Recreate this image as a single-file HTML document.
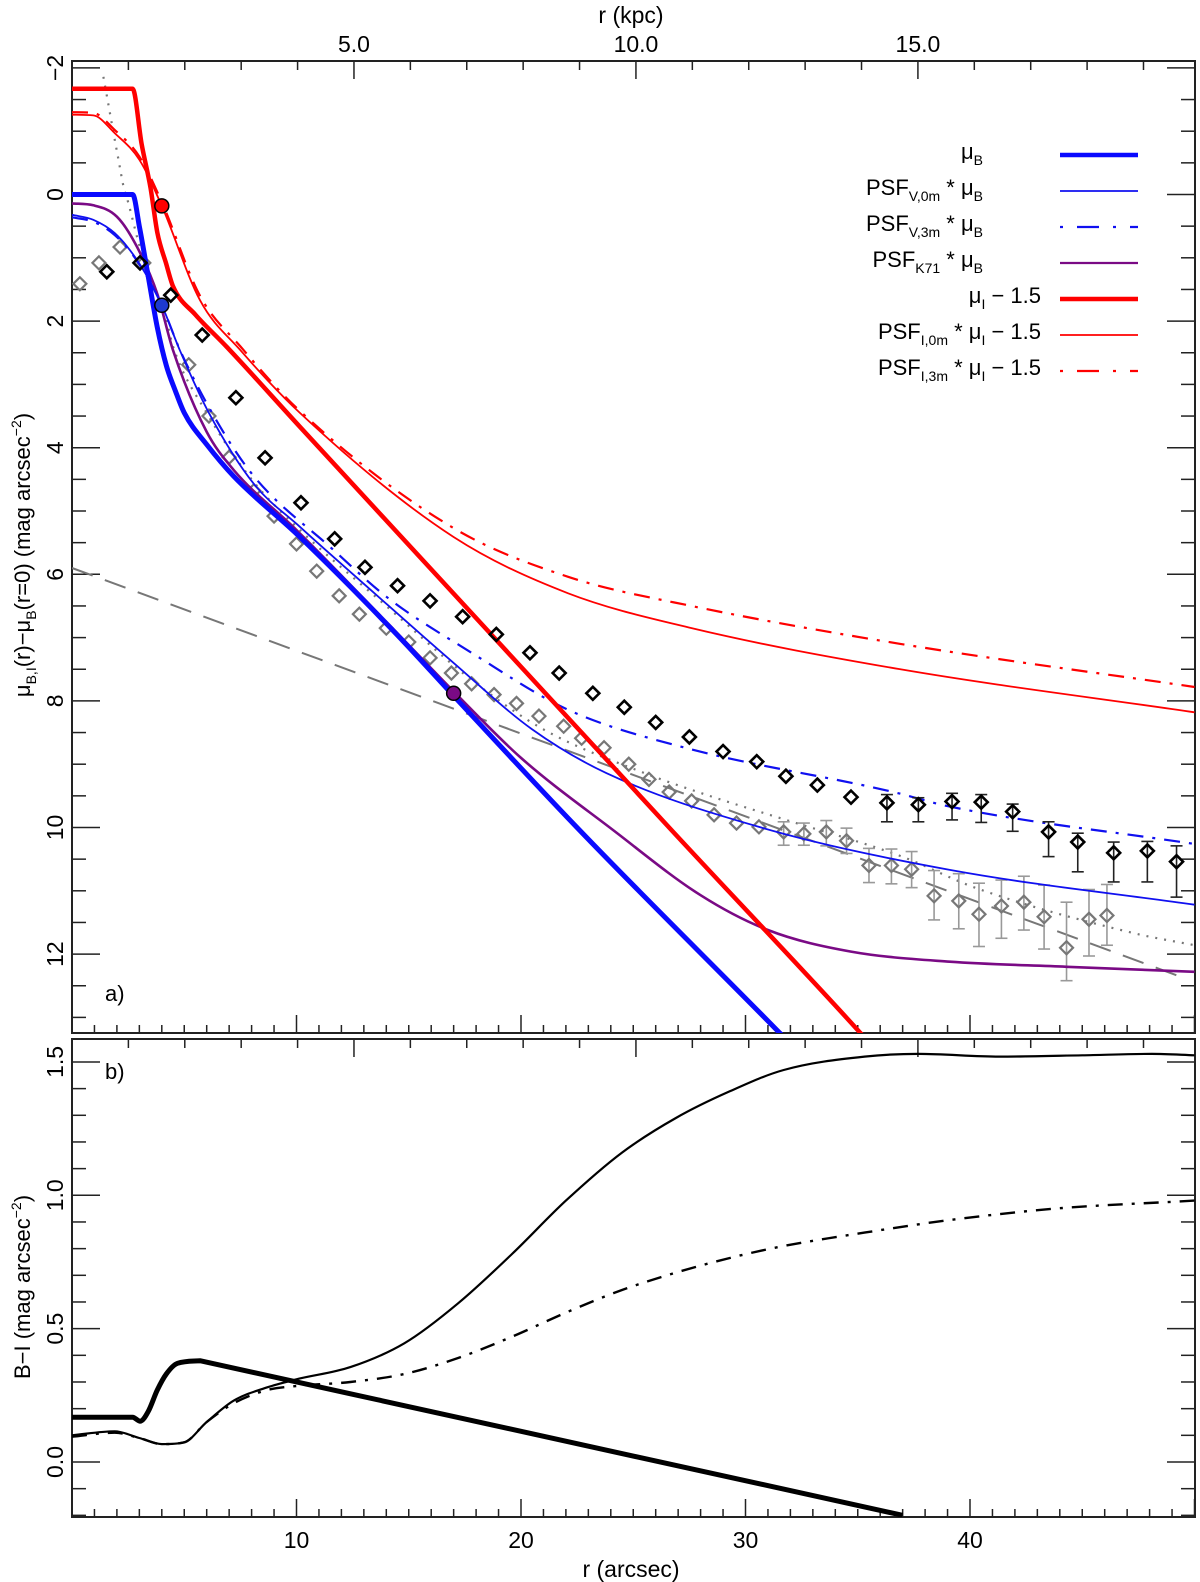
<!DOCTYPE html>
<html><head><meta charset="utf-8"><title>Surface brightness profiles</title>
<style>
html,body{margin:0;padding:0;background:#fff;}
svg{display:block;font-family:"Liberation Sans",Arial,sans-serif;}
</style></head>
<body>
<svg id="chart" width="1200" height="1582" viewBox="0 0 1200 1582" xmlns="http://www.w3.org/2000/svg">
<defs>
<clipPath id="clipA"><rect x="72" y="61" width="1123" height="972"/></clipPath>
<clipPath id="clipB"><rect x="72" y="1039" width="1123" height="478"/></clipPath>
</defs>
<g id="layer"></g>
</svg>
<script>
// ---------- Panel a data (x in arcsec, y in mag) ----------
const muB_x = [0,2.7,3.0,3.4,3.8,4.2,4.6,5.0,6.0,7.2,10.15,14.6,17.0,22.6,31.4,32.5];
const muB_y = [0,0,0.5,1.3,2.1,2.7,3.1,3.45,3.95,4.45,5.41,7.0,7.92,10.04,13.2,13.6];
const muI_x = [0,2.7,3.1,3.5,3.8,4.2,4.5,5.5,6.9,10.15,26.7,35.0,36.0];
const muI_y = [-1.67,-1.67,-0.8,-0.1,0.6,1.1,1.45,1.9,2.41,3.67,10.04,13.2,13.6];
const psfV0_x = [0,0.95,1.9,3.0,4.0,4.8,6.1,8.1,10.15,13.0,17.0,20.5,23.8,30.6,39.1,50];
const psfV0_y = [0.32,0.4,0.61,1.09,1.75,2.46,3.45,4.57,5.25,6.15,7.4,8.45,9.14,9.99,10.67,11.22];
const psfV3_x = [0,0.95,1.9,3.0,4.0,4.8,6.4,8.1,11.6,14.1,17.8,22.1,27.2,36.6,39.1,50];
const psfV3_y = [0.36,0.43,0.64,1.1,1.75,2.45,3.55,4.45,5.6,6.38,7.24,8.14,8.73,9.44,9.67,10.26];
const psfK_x = [0,0.95,2.0,2.9,3.8,4.5,6.0,7.2,10.0,14.0,17.0,20.0,24.1,28.0,31.0,34.7,39.1,44.3,50];
const psfK_y = [0.14,0.17,0.35,0.83,1.57,2.46,3.75,4.35,5.3,6.75,7.85,8.9,10.04,11.07,11.62,11.96,12.12,12.2,12.28];
const psfI0_x = [0,0.95,1.9,3.0,4.0,5.7,7.5,10.15,17.0,22.1,27.6,36.9,50];
const psfI0_y = [-1.26,-1.25,-0.97,-0.55,0.18,1.67,2.46,3.45,5.41,6.3,6.85,7.5,8.18];
const psfI3_x = [0,0.95,1.9,3.0,4.0,5.7,7.5,10.15,17.0,22.1,27.6,36.9,50];
const psfI3_y = [-1.3,-1.29,-1.02,-0.6,0.12,1.6,2.4,3.42,5.27,6.04,6.5,7.1,7.78];
const dotted_x = [1.4,1.85,2.07,2.3,2.5,3.0,3.5,4.2,4.5,6.0,8.0,10.15,14.0,17.8,21.0,25.5,28.4,31.8,36.9,40.3,47.3,50];
const dotted_y = [-1.86,-0.97,-0.55,-0.12,0.12,0.8,1.3,1.98,2.4,3.45,4.5,5.3,6.5,7.67,8.45,9.14,9.5,9.88,10.45,10.96,11.67,11.86];
const dashLine_x = [0,49.4];
const dashLine_y = [5.9,12.36];
const blackPts_x = [1.55,3.03,4.4,5.8,7.3,8.6,10.2,11.7,13.05,14.5,15.95,17.4,18.9,20.4,21.7,23.2,24.6,26.0,27.5,29.0,30.5,31.8,33.2,34.7,36.3,37.7,39.2,40.5,41.9,43.5,44.8,46.4,47.9,49.2];
const blackPts_y = [1.22,1.08,1.59,2.22,3.21,4.16,4.87,5.44,5.89,6.18,6.42,6.67,6.95,7.24,7.56,7.88,8.1,8.34,8.57,8.8,8.96,9.19,9.33,9.52,9.61,9.64,9.59,9.6,9.75,10.07,10.23,10.4,10.37,10.54];
const blackErr_x = [36.3,37.7,39.2,40.5,41.9,43.5,44.8,46.4,47.9,49.2];
const blackErr_top = [9.48,9.53,9.46,9.48,9.63,9.91,10.09,10.23,10.22,10.29];
const blackErr_bot = [9.91,9.91,9.88,9.92,10.06,10.46,10.70,10.86,10.86,11.10];
const grayPts_x = [0.35,1.2,2.14,3.2,5.2,6.1,7.0,8.1,9.0,10.0,10.9,11.9,12.8,14.0,15.0,15.95,16.9,17.8,18.8,19.8,20.8,21.9,22.7,23.7,24.8,25.7,26.6,27.6,28.6,29.6,30.6,31.7,32.6,33.6,34.5,35.5,36.5,37.4,38.4,39.5,40.4,41.4,42.4,43.3,44.3,45.3,46.1];
const grayPts_y = [1.41,1.08,0.83,1.08,2.69,3.5,4.15,4.68,5.08,5.52,5.95,6.34,6.63,6.85,7.07,7.32,7.56,7.73,7.9,8.04,8.24,8.4,8.59,8.74,9.0,9.24,9.44,9.58,9.8,9.93,9.99,10.07,10.1,10.07,10.21,10.6,10.6,10.66,11.08,11.16,11.37,11.24,11.18,11.41,11.9,11.45,11.39];
const grayErr_x = [31.7,32.6,33.6,34.5,35.5,36.5,37.4,38.4,39.5,40.4,41.4,42.4,43.3,44.3,45.3,46.1];
const grayErr_top = [9.91,9.93,9.89,10.01,10.33,10.34,10.38,10.68,10.73,10.88,10.83,10.77,10.91,11.18,10.98,10.90];
const grayErr_bot = [10.28,10.28,10.29,10.41,10.87,10.89,10.95,11.46,11.60,11.88,11.75,11.62,11.92,12.42,12.03,11.86];
const markDots_x = [4.0,4.0,17.0];
const markDots_y = [1.75,0.18,7.88];
// ---------- Panel b data ----------
const bThick_x = [0,2.7,3.03,3.4,3.8,4.2,4.7,5.7,37.0];
const bThick_y = [0.168,0.168,0.153,0.19,0.27,0.33,0.37,0.38,-0.2];
const bThin_x = [0,1.9,3.0,4.0,5.0,6.0,7.2,8.7,10.0,12.4,14.8,17.2,19.6,22.0,24.5,26.9,29.3,31.7,35.3,37.7,41.3,45.0,48.1,50];
const bThin_y = [0.10,0.115,0.09,0.067,0.074,0.15,0.23,0.28,0.31,0.356,0.445,0.595,0.78,0.98,1.16,1.29,1.39,1.47,1.52,1.53,1.52,1.525,1.53,1.525];
const bDash_x = [0,1.9,3.0,4.0,5.0,6.0,7.2,8.7,10.0,12.4,14.8,17.2,19.6,22.0,24.5,26.9,29.3,31.7,35.3,38.9,43.8,50];
const bDash_y = [0.095,0.11,0.09,0.067,0.074,0.15,0.22,0.27,0.285,0.30,0.33,0.39,0.47,0.56,0.645,0.71,0.765,0.81,0.86,0.905,0.95,0.98];
// ---------- Axis ticks ----------
const aTickLabels = [-2,0,2,4,6,8,10,12];
const bTickLabels = [0.0,0.5,1.0,1.5];
const xTickLabels = [10,20,30,40];
const kpcTickLabels = [5,10,15];

const NS = "http://www.w3.org/2000/svg";
const layer = document.getElementById("layer");
const X0 = 72, X1 = 1195, AY0 = 61, AY1 = 1033, BY0 = 1039, BY1 = 1517;
function xs(a){ return X0 + a * 22.45; }
function ya(v){ return 194.5 + v * 63.3; }
function yb(v){ return 1462 - v * 266.7; }
function xk(k){ return xs(k * 2.512); }

function mk(tag, attrs, parent){
  const e = document.createElementNS(NS, tag);
  for (const k in attrs) e.setAttribute(k, attrs[k]);
  (parent || layer).appendChild(e);
  return e;
}
function smoothPath(pts){
  const n = pts.length;
  if (n < 3) return linePath(pts);
  const d = [], m = [];
  for (let i = 0; i < n - 1; i++) d.push((pts[i+1][1] - pts[i][1]) / (pts[i+1][0] - pts[i][0]));
  m[0] = d[0]; m[n-1] = d[n-2];
  for (let i = 1; i < n - 1; i++) m[i] = (d[i-1] * d[i] <= 0) ? 0 : (d[i-1] + d[i]) / 2;
  for (let i = 0; i < n - 1; i++){
    if (d[i] === 0){ m[i] = 0; m[i+1] = 0; continue; }
    const a = m[i] / d[i], b = m[i+1] / d[i], s = a*a + b*b;
    if (s > 9){ const t = 3 / Math.sqrt(s); m[i] = t*a*d[i]; m[i+1] = t*b*d[i]; }
  }
  let p = "M" + pts[0][0].toFixed(1) + "," + pts[0][1].toFixed(1);
  for (let i = 0; i < n - 1; i++){
    const h = pts[i+1][0] - pts[i][0];
    p += " C" + (pts[i][0] + h/3).toFixed(1) + "," + (pts[i][1] + m[i]*h/3).toFixed(1) + " " +
         (pts[i+1][0] - h/3).toFixed(1) + "," + (pts[i+1][1] - m[i+1]*h/3).toFixed(1) + " " +
         pts[i+1][0].toFixed(1) + "," + pts[i+1][1].toFixed(1);
  }
  return p;
}
function linePath(pts){ return "M" + pts.map(p => p[0].toFixed(1) + "," + p[1].toFixed(1)).join(" L"); }
function series(xsArr, ysArr, yf, name, stroke, width, dash, clip, smooth, linFrom){
  const pts = xsArr.map((x, i) => [xs(x), yf(ysArr[i])]);
  let d;
  if (!smooth) d = linePath(pts);
  else if (linFrom !== undefined){
    d = smoothPath(pts.slice(0, linFrom + 1));
    pts.slice(linFrom + 1).forEach(p => { d += " L" + p[0].toFixed(1) + "," + p[1].toFixed(1); });
  } else d = smoothPath(pts);
  const p = mk("path", {d: d, fill: "none", stroke: stroke, "stroke-width": width, "stroke-linejoin": "round", "clip-path": "url(#" + clip + ")"});
  if (dash) p.setAttribute("stroke-dasharray", dash);
  
  
  return p;
}
function diamond(cx, cy, r, stroke, sw, name){
  const p = mk("polygon", {points: cx+","+(cy-r)+" "+(cx+r)+","+cy+" "+cx+","+(cy+r)+" "+(cx-r)+","+cy, fill: "none", stroke: stroke, "stroke-width": sw, "clip-path": "url(#clipA)"});
  
  
}
function errbar(x, t, b, color, name){
  const g = mk("g", {stroke: color, "stroke-width": 1.6, "clip-path": "url(#clipA)"});
  
  
  const cx = xs(x);
  mk("line", {x1: cx, x2: cx, y1: ya(t), y2: ya(b)}, g);
  mk("line", {x1: cx-6, x2: cx+6, y1: ya(t), y2: ya(t)}, g);
  mk("line", {x1: cx-6, x2: cx+6, y1: ya(b), y2: ya(b)}, g);
}
function txt(x, y, s, size, anchor, name, rot){
  const t = mk("text", {x: 0, y: 0, "font-size": size, "text-anchor": anchor || "middle", fill: "#000",
    transform: "translate(" + x + "," + y + ")" + (rot ? " rotate(" + rot + ")" : "")});
  t.textContent = s;
  
  
  return t;
}
function tick(x1, y1, x2, y2, name){
  const l = mk("line", {x1: x1, y1: y1, x2: x2, y2: y2, stroke: "#222", "stroke-width": 1.5});
  
  
}

// ---------- Frames ----------
const fa = mk("rect", {x: X0, y: AY0, width: X1-X0, height: AY1-AY0, fill: "none", stroke: "#222", "stroke-width": 2});


const fb = mk("rect", {x: X0, y: BY0, width: X1-X0, height: BY1-BY0, fill: "none", stroke: "#222", "stroke-width": 2});



// ---------- Panel a y ticks ----------
for (let v = -2; v <= 13.01; v += 0.5){
  const y = ya(v), major = Math.abs(v % 2) < 1e-6;
  const L = major ? 28 : 14;
  tick(X0, y, X0 + L, y, 'y-tick-a');
  tick(X1, y, X1 - L, y, 'y-tick-a-right');
}
aTickLabels.forEach(v => { txt(63, ya(v), (v < 0 ? "\u2212" + Math.abs(v) : String(v)), 23, "middle", 'y-tick-label-a', -90); });
// Panel b y ticks
for (let i = -2; i <= 15; i++){
  const v = i / 10, y = yb(v), major = (i % 5 === 0);
  const L = major ? 28 : 14;
  tick(X0, y, X0 + L, y, 'y-tick-b');
  tick(X1, y, X1 - L, y, 'y-tick-b-right');
}
bTickLabels.forEach(v => { txt(63, yb(v), v.toFixed(1), 23, "middle", 'y-tick-label-b', -90); });
// x ticks (arcsec) bottom of both panels
for (let a = 0; a <= 50; a++){
  const x = xs(a), major = (a % 10 === 0);
  const L = major ? 18 : 8;
  tick(x, AY1, x, AY1 - L, 'x-tick-a');
  tick(x, BY1, x, BY1 - L, 'x-tick-b');
}
xTickLabels.forEach(v => { txt(xs(v), 1548, String(v), 23, "middle", 'x-tick-label'); });
// kpc ticks top of both panels
for (let k = 1; k <= 19; k++){
  const x = xk(k), major = (k % 5 === 0);
  const L = major ? 18 : 9;
  tick(x, AY0, x, AY0 + L, 'kpc-tick-a');
  tick(x, BY0, x, BY0 + L, 'kpc-tick-b');
}
kpcTickLabels.forEach(v => { txt(xk(v), 52, v.toFixed(1), 23, "middle", 'kpc-tick-label'); });

// ---------- Axis titles ----------
txt(631, 23, "r (kpc)", 23, "middle", 'top-x-axis-title');
txt(631, 1577, "r (arcsec)", 23, "middle", 'x-axis-title');
const ta = mk("text", {x: 0, y: 0, "font-size": 22, "text-anchor": "middle", transform: "translate(30,555) rotate(-90)"});


ta.innerHTML = '\u03bc<tspan font-size="14" dy="6">B,I</tspan><tspan dy="-6">(r)\u2212\u03bc</tspan><tspan font-size="14" dy="6">B</tspan><tspan dy="-6">(r=0) (mag arcsec</tspan><tspan font-size="14" dy="-9">\u22122</tspan><tspan dy="9">)</tspan>';
const tb = mk("text", {x: 0, y: 0, "font-size": 22, "text-anchor": "middle", transform: "translate(30,1287) rotate(-90)"});


tb.innerHTML = 'B\u2212I (mag arcsec<tspan font-size="14" dy="-9">\u22122</tspan><tspan dy="9">)</tspan>';
txt(105, 1001, "a)", 22, "start", 'panel-a-label');
txt(105, 1079, "b)", 22, "start", 'panel-b-label');

// ---------- Panel a series ----------
series(dashLine_x, dashLine_y, ya, 'gray-dashed-fit', '#777', 2, '22 13', 'clipA', false);
series(dotted_x, dotted_y, ya, 'gray-dotted-model', '#777', 2.2, '2 7', 'clipA', true);
grayErr_x.forEach((x, i) => errbar(x, grayErr_top[i], grayErr_bot[i], '#999', 'gray-error-bar'));
grayPts_x.forEach((x, i) => diamond(xs(x), ya(grayPts_y[i]), 6.5, '#777', 2.2, 'gray-data-point'));
series(psfK_x, psfK_y, ya, 'psf-k71-mu-b-line', '#7a0a85', 2.6, null, 'clipA', true);
series(psfV0_x, psfV0_y, ya, 'psf-v0m-mu-b-line', '#1010f0', 1.8, null, 'clipA', true);
series(psfV3_x, psfV3_y, ya, 'psf-v3m-mu-b-line', '#1010f0', 2.2, '16 9 3 9', 'clipA', true);
series(psfI0_x, psfI0_y, ya, 'psf-i0m-mu-i-line', '#f00', 1.8, null, 'clipA', true);
series(psfI3_x, psfI3_y, ya, 'psf-i3m-mu-i-line', '#f00', 2.2, '16 9 3 9', 'clipA', true);
series(muB_x, muB_y, ya, 'mu-b-line', '#0a0aff', 5, null, 'clipA', true);
series(muI_x, muI_y, ya, 'mu-i-line', '#f00', 4.5, null, 'clipA', true);
blackErr_x.forEach((x, i) => errbar(x, blackErr_top[i], blackErr_bot[i], '#222', 'black-error-bar'));
blackPts_x.forEach((x, i) => diamond(xs(x), ya(blackPts_y[i]), 6.5, '#000', 2.6, 'black-data-point'));
const dotColors = ['#1e3ad0', '#f00', '#7a0a85'];
const dotNames = ['blue-marker-dot', 'red-marker-dot', 'purple-marker-dot'];
markDots_x.forEach((x, i) => {
  const c = mk("circle", {cx: xs(x), cy: ya(markDots_y[i]), r: 7, fill: dotColors[i], stroke: "#000", "stroke-width": 1.5});
  
  
});

// ---------- Panel b series ----------
series(bDash_x, bDash_y, yb, 'color-psf-3m-line', '#000', 2.4, '15 9 3 9', 'clipB', true);
series(bThin_x, bThin_y, yb, 'color-psf-0m-line', '#000', 2.2, null, 'clipB', true);
series(bThick_x, bThick_y, yb, 'color-intrinsic-line', '#000', 5, null, 'clipB', true, 7);

// ---------- Legend ----------
const legend = mk("g", {});


const legRows = [
  {y:155, end:983, html:'\u03bc<tspan font-size="14" dy="6">B</tspan>', c:'#0a0aff', w:4.5, d:null, n:'legend-entry-mu-b'},
  {y:191, end:983, html:'PSF<tspan font-size="14" dy="6">V,0m</tspan><tspan dy="-6"> * \u03bc</tspan><tspan font-size="14" dy="6">B</tspan>', c:'#1010f0', w:1.8, d:null, n:'legend-entry-psf-v0m'},
  {y:227, end:983, html:'PSF<tspan font-size="14" dy="6">V,3m</tspan><tspan dy="-6"> * \u03bc</tspan><tspan font-size="14" dy="6">B</tspan>', c:'#1010f0', w:2.2, d:'3 14 22 14', n:'legend-entry-psf-v3m'},
  {y:263, end:983, html:'PSF<tspan font-size="14" dy="6">K71</tspan><tspan dy="-6"> * \u03bc</tspan><tspan font-size="14" dy="6">B</tspan>', c:'#7a0a85', w:2.2, d:null, n:'legend-entry-psf-k71'},
  {y:299, end:1041, html:'\u03bc<tspan font-size="14" dy="6">I</tspan><tspan dy="-6"> \u2212 1.5</tspan>', c:'#f00', w:4.5, d:null, n:'legend-entry-mu-i'},
  {y:335, end:1041, html:'PSF<tspan font-size="14" dy="6">I,0m</tspan><tspan dy="-6"> * \u03bc</tspan><tspan font-size="14" dy="6">I</tspan><tspan dy="-6"> \u2212 1.5</tspan>', c:'#f00', w:1.8, d:null, n:'legend-entry-psf-i0m'},
  {y:371, end:1041, html:'PSF<tspan font-size="14" dy="6">I,3m</tspan><tspan dy="-6"> * \u03bc</tspan><tspan font-size="14" dy="6">I</tspan><tspan dy="-6"> \u2212 1.5</tspan>', c:'#f00', w:2.2, d:'3 14 22 14', n:'legend-entry-psf-i3m'}
];
legRows.forEach(r => {
  const t = mk("text", {x: r.end, y: r.y + 4, "font-size": 22, "text-anchor": "end", fill: "#000"}, legend);
  t.innerHTML = r.html;
  
  
  const l = mk("line", {x1: 1060, x2: 1138, y1: r.y, y2: r.y, stroke: r.c, "stroke-width": r.w}, legend);
  if (r.d) l.setAttribute("stroke-dasharray", r.d);
  
  
});
</script>
</body></html>
